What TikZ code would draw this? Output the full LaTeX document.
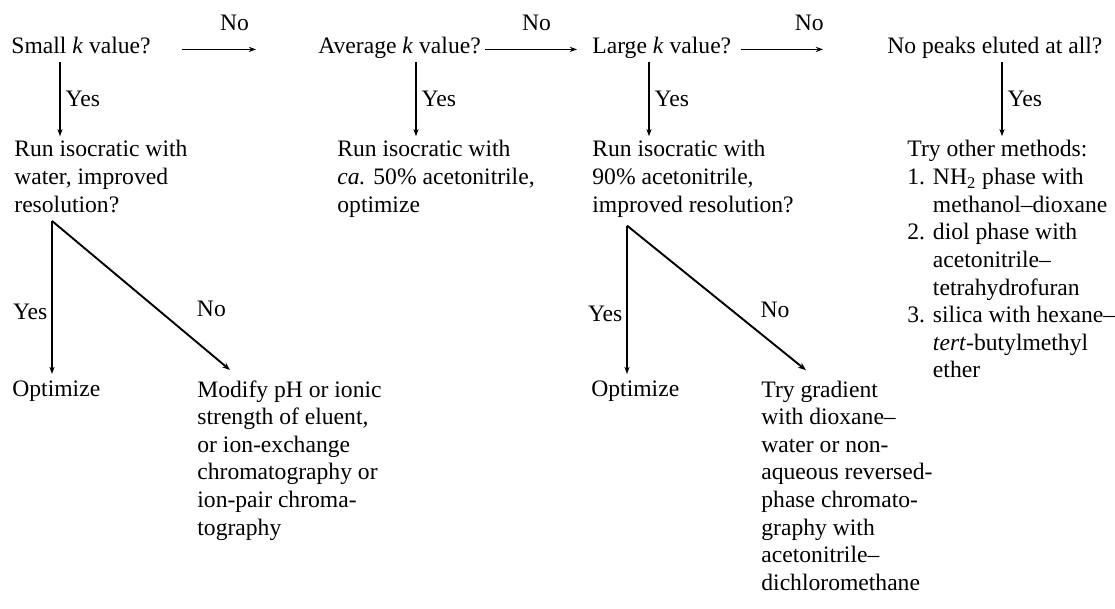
\documentclass[tikz,border=0pt]{standalone}
\usepackage{fontspec}
\setmainfont{Liberation Serif}
\usetikzlibrary{arrows.meta}
\tikzset{
  txt/.style={anchor=base west, inner sep=0pt, align=left, font=\fontsize{11.8pt}{13.8pt}\selectfont},
  lbl/.style={inner sep=0pt, font=\fontsize{11.8pt}{13.8pt}\selectfont},
  arr/.style={-{Stealth[length=3.6pt,width=2.6pt]}, line width=0.65pt},
  forkarr/.style={-{Stealth[length=4pt,width=3pt]}, line width=0.95pt},
}
\begin{document}
\begin{tikzpicture}[x=0.5pt,y=-0.5pt]
\useasboundingbox (0,0) rectangle (1115,609);
% questions along the top
\node[txt] (small) at (11,54) {Small \textit{k} value?};
\node[txt] (avg) at (318,54) {Average \textit{k} value?};
\node[txt] (large) at (592,54) {Large \textit{k} value?};
\node[txt] (nopeak) at (887,54) {No peaks eluted at all?};
% second row (placed by the baseline of the last line)
\node[txt] (iso1) at (14,212.2) {Run isocratic with\\water, improved\\resolution?};
\node[txt] (iso2) at (337,212.2) {Run isocratic with\\\textit{ca.} 50\% acetonitrile,\\optimize};
\node[txt] (iso3) at (592,212.2) {Run isocratic with\\90\% acetonitrile,\\improved resolution?};
\node[txt] (other) at (907,377.8) {Try other methods:\\
1. NH\textsubscript{2} phase with\\
\phantom{1. }methanol–dioxane\\
2. diol phase with\\
\phantom{2. }acetonitrile–\\
\phantom{2. }tetrahydrofuran\\
3. silica with hexane–\\
\phantom{3. }\textit{tert}-butylmethyl\\
\phantom{3. }ether};
% outcomes
\node[txt] (opt1) at (12,397) {Optimize};
\node[txt] (mod) at (197,535) {Modify pH or ionic\\strength of eluent,\\or ion-exchange\\chromatography or\\ion-pair chroma-\\tography};
\node[txt] (opt2) at (591,397) {Optimize};
\node[txt] (grad) at (761,590.2) {Try gradient\\with dioxane–\\water or non-\\aqueous reversed-\\phase chromato-\\graphy with\\acetonitrile–\\dichloromethane};
% No arrows
\draw[arr,shorten <=15.5pt,shorten >=31pt] (small.mid east) -- (avg.mid west)
  node[lbl,midway,above=9pt] (no1) {No};
\draw[arr,shorten <=2pt,shorten >=7.5pt] (avg.mid east) -- (large.mid west)
  node[lbl,midway,above=9pt] (no2) {No};
\draw[arr,shorten <=4.5pt,shorten >=32pt] (large.mid east) -- (nopeak.mid west)
  node[lbl,midway,above=9pt] (no3) {No};
% Yes arrows
\draw[arr] ([xshift=24.5pt,yshift=-4pt]small.base west) -- ([xshift=23pt,yshift=2pt]iso1.north west)
  node[lbl,midway,right=2.5pt] (yes1) {Yes};
\draw[arr] ([xshift=49pt,yshift=-4pt]avg.base west) -- ([xshift=39.5pt,yshift=2pt]iso2.north west)
  node[lbl,midway,right=2.5pt] (yes2) {Yes};
\draw[arr] ([xshift=28.5pt,yshift=-4pt]large.base west) -- ([xshift=28.5pt,yshift=2pt]iso3.north west)
  node[lbl,midway,right=2.5pt] (yes3) {Yes};
\draw[arr] ([xshift=57.5pt,yshift=-4pt]nopeak.base west) -- ([xshift=47.5pt,yshift=2pt]other.north west)
  node[lbl,midway,right=2.5pt] (yes4) {Yes};
% resolution forks
\coordinate (fork1) at ([xshift=19pt,yshift=-4pt]iso1.south west);
\draw[arr,shorten >=3.5pt] (fork1) -- (fork1 |- opt1.north)
  node[lbl,pos=0.57,left=2pt] (yes5) {Yes};
\draw[forkarr] (fork1) -- ([xshift=16.5pt,yshift=5pt]mod.north west)
  node[lbl,pos=0.59,right=19.5pt] (no5) {No};
\coordinate (fork2) at ([xshift=17.5pt,yshift=-4pt]iso3.south west);
\draw[arr,shorten >=3.5pt] (fork2) -- (fork2 |- opt2.north)
  node[lbl,pos=0.57,left=2pt] (yes6) {Yes};
\draw[forkarr] (fork2) -- ([xshift=22.5pt,yshift=5pt]grad.north west)
  node[lbl,pos=0.585,right=14pt] (no6) {No};
\end{tikzpicture}
\end{document}
